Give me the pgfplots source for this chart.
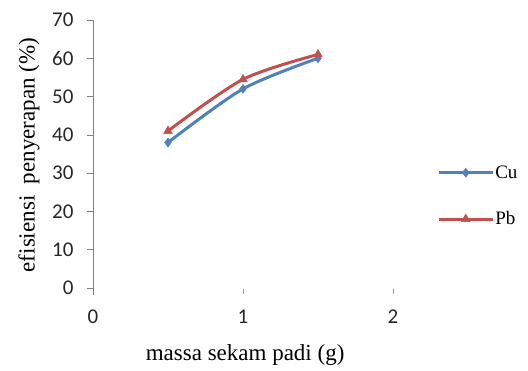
\documentclass[border=0pt]{standalone}
\usepackage{fontspec}
\setmainfont{Liberation Serif}
\newfontfamily\carlito{Carlito}
\usepackage{pgfplots}
\pgfplotsset{compat=1.18}
\definecolor{cublue}{HTML}{4F81BD}
\definecolor{pbred}{HTML}{C0504D}
\begin{document}
\begin{tikzpicture}[x=1pt,y=1pt]
\path[use as bounding box] (-93,-83) rectangle (435,288);
\begin{axis}[
  at={(0,0)}, anchor=south west,
  scale only axis, width=345pt, height=268pt,
  xmin=0, xmax=2.3, ymin=0, ymax=70,
  xtick={0,1,2}, ytick={0,10,...,70},
  axis y line*=left, axis x line*=bottom,
  x axis line style={draw=white, line width=0.1pt},
  y axis line style={draw=gray, line width=0.8pt, shorten <=-7pt},
  tick style={draw=gray, line width=0.6pt},
  xtick style={draw=gray!80, line width=0.6pt},
  major tick length=6pt,
  tick align=outside,
  /pgf/number format/assume math mode=true,
  ticklabel style={font=\carlito\fontsize{21}{24}\selectfont, text=black!85},
  yticklabel style={xshift=-10pt},
  xticklabel style={yshift=-12pt},
  xlabel={massa sekam padi (g)},
  ylabel={efisiensi\ \ penyerapan (\%)},
  label style={font=\fontsize{23}{26}\selectfont},
  xlabel style={at={(axis description cs:0.441,0)}, anchor=center, yshift=-67pt},
  ylabel style={at={(axis description cs:0,0.496)}, anchor=center, yshift=64pt},
  clip=false,
  legend style={at={(1.006,0.343)}, anchor=west, xshift=-3pt, draw=none, fill=none,
    font=\fontsize{19}{21}\selectfont, row sep=30pt, inner sep=0pt,
    nodes={inner sep=1pt}},
  legend cell align=left,
  legend image code/.code={\draw[mark repeat=2,mark phase=2] plot coordinates {(0pt,0pt)(27pt,0pt)(54pt,0pt)};},
]
\addplot[color=cublue, line width=3pt, smooth, mark=diamond*, mark size=4.5pt, mark options={line width=0.5pt}]
  coordinates {(0.5,38) (1,52) (1.5,60)};
\addlegendentry{Cu}
\addplot[color=pbred, line width=3pt, smooth, mark=triangle*, mark size=5pt, mark options={line width=0.5pt}]
  coordinates {(0.5,41) (1,54.5) (1.5,61)};
\addlegendentry{Pb}
\end{axis}
\end{tikzpicture}
\end{document}
